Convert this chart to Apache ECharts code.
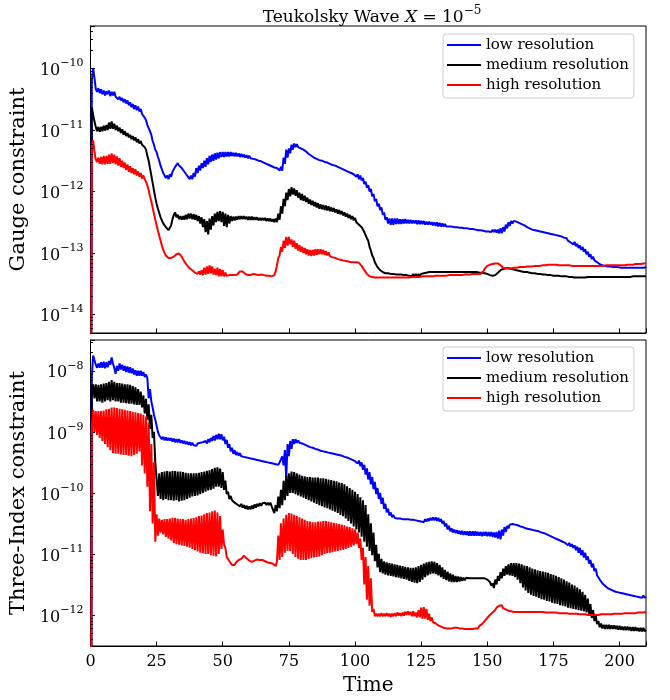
<!DOCTYPE html>
<html><head><meta charset="utf-8">
<script src="https://cdn.jsdelivr.net/npm/echarts@6/dist/echarts.min.js"></script>
<style>html,body{margin:0;padding:0;background:#fff}#c{width:670px;height:700px}</style>
</head><body><div id="c"></div>
<script>
// sampling step of the series (time units); value i is at t = i * TIME_STEP, t = 0 .. 210
const TIME_STEP = 0.5;
const seriesNames = ['low resolution', 'medium resolution', 'high resolution'];
const xTickValues = [0, 25, 50, 75, 100, 125, 150, 175, 200];
const gaugeDecades = [-14, -13, -12, -11, -10];
const threeIndexDecades = [-12, -11, -10, -9, -8];

// log10 of the constraint values
const gaugeLowLog10 = [
-20,-10.2,-10.0,-10.15,-10.33,-10.38,-10.32,-10.4,-10.34,-10.42,-10.36,-10.44,-10.37,-10.42,-10.36,-10.45,-10.38,-10.44,-10.38,-10.46,
-10.44,-10.5,-10.46,-10.52,-10.48,-10.55,-10.5,-10.57,-10.52,-10.6,-10.55,-10.63,-10.58,-10.66,-10.6,-10.68,-10.62,-10.7,-10.66,-10.74,
-10.74,-10.8,-10.84,-10.92,-10.94,-11.02,-11.08,-11.18,-11.24,-11.32,-11.36,-11.44,-11.5,-11.58,-11.64,-11.7,-11.72,-11.78,-11.74,-11.8,
-11.72,-11.76,-11.68,-11.7,-11.6,-11.62,-11.54,-11.58,-11.56,-11.62,-11.62,-11.68,-11.68,-11.74,-11.72,-11.8,-11.74,-11.8,-11.7,-11.76,
-11.62,-11.7,-11.58,-11.66,-11.54,-11.62,-11.5,-11.6,-11.46,-11.56,-11.42,-11.52,-11.4,-11.5,-11.38,-11.48,-11.37,-11.46,-11.36,-11.44,
-11.36,-11.44,-11.36,-11.43,-11.36,-11.43,-11.36,-11.42,-11.37,-11.43,-11.37,-11.43,-11.38,-11.44,-11.39,-11.44,-11.4,-11.45,-11.41,-11.46,
-11.42,-11.46,-11.43,-11.47,-11.44,-11.48,-11.46,-11.5,-11.47,-11.51,-11.49,-11.53,-11.51,-11.55,-11.53,-11.57,-11.55,-11.59,-11.57,-11.61,
-11.58,-11.62,-11.6,-11.66,-11.6,-11.66,-11.45,-11.55,-11.32,-11.45,-11.3,-11.38,-11.24,-11.32,-11.22,-11.28,-11.23,-11.28,-11.26,-11.3,
-11.29,-11.32,-11.33,-11.35,-11.37,-11.39,-11.41,-11.42,-11.43,-11.45,-11.45,-11.47,-11.47,-11.49,-11.49,-11.5,-11.5,-11.52,-11.52,-11.53,
-11.53,-11.55,-11.55,-11.57,-11.56,-11.58,-11.58,-11.6,-11.6,-11.62,-11.61,-11.64,-11.63,-11.66,-11.65,-11.68,-11.67,-11.7,-11.69,-11.72,
-11.7,-11.76,-11.72,-11.8,-11.74,-11.82,-11.78,-11.88,-11.84,-11.94,-11.9,-12.0,-11.96,-12.08,-12.04,-12.16,-12.12,-12.24,-12.2,-12.3,
-12.26,-12.38,-12.34,-12.46,-12.42,-12.52,-12.44,-12.54,-12.44,-12.54,-12.44,-12.53,-12.44,-12.53,-12.45,-12.53,-12.45,-12.52,-12.45,-12.52,
-12.46,-12.52,-12.46,-12.52,-12.47,-12.52,-12.47,-12.53,-12.47,-12.53,-12.48,-12.53,-12.48,-12.54,-12.49,-12.54,-12.49,-12.54,-12.5,-12.55,
-12.5,-12.56,-12.5,-12.57,-12.51,-12.57,-12.52,-12.57,-12.53,-12.57,-12.54,-12.57,-12.55,-12.57,-12.55,-12.58,-12.56,-12.58,-12.56,-12.59,
-12.57,-12.59,-12.57,-12.6,-12.58,-12.6,-12.58,-12.61,-12.59,-12.61,-12.59,-12.62,-12.6,-12.63,-12.6,-12.63,-12.61,-12.64,-12.61,-12.65,
-12.62,-12.65,-12.62,-12.66,-12.62,-12.66,-12.62,-12.67,-12.62,-12.68,-12.6,-12.68,-12.58,-12.65,-12.54,-12.6,-12.5,-12.56,-12.48,-12.52,
-12.48,-12.5,-12.49,-12.51,-12.51,-12.53,-12.53,-12.55,-12.55,-12.57,-12.58,-12.59,-12.6,-12.61,-12.62,-12.63,-12.63,-12.64,-12.64,-12.65,
-12.65,-12.66,-12.66,-12.67,-12.67,-12.68,-12.68,-12.69,-12.69,-12.7,-12.7,-12.71,-12.71,-12.72,-12.72,-12.74,-12.73,-12.76,-12.75,-12.78,
-12.76,-12.8,-12.78,-12.83,-12.8,-12.86,-12.82,-12.89,-12.85,-12.92,-12.88,-12.95,-12.9,-12.98,-12.94,-13.02,-12.98,-13.06,-13.02,-13.1,
-13.06,-13.12,-13.1,-13.15,-13.13,-13.18,-13.16,-13.2,-13.18,-13.21,-13.19,-13.22,-13.2,-13.22,-13.2,-13.23,-13.21,-13.23,-13.21,-13.23,
-13.21,-13.24,-13.21,-13.24,-13.21,-13.24,-13.21,-13.24,-13.21,-13.24,-13.21,-13.24,-13.21,-13.24,-13.21,-13.24,-13.21,-13.24,-13.21,-13.24,-13.22
];
const gaugeMediumLog10 = [
-20,-10.63,-10.75,-10.86,-10.95,-11.02,-10.95,-11.03,-10.95,-11.02,-10.93,-11.01,-10.92,-11.0,-10.88,-10.98,-10.86,-10.98,-10.9,-11.0,
-10.93,-11.02,-10.96,-11.05,-10.99,-11.08,-11.02,-11.1,-11.05,-11.12,-11.08,-11.15,-11.1,-11.17,-11.12,-11.2,-11.15,-11.22,-11.18,-11.24,
-11.22,-11.28,-11.32,-11.42,-11.5,-11.62,-11.74,-11.86,-11.98,-12.1,-12.2,-12.28,-12.35,-12.42,-12.47,-12.52,-12.55,-12.58,-12.6,-12.63,
-12.6,-12.55,-12.45,-12.38,-12.34,-12.42,-12.38,-12.45,-12.4,-12.46,-12.4,-12.46,-12.38,-12.45,-12.36,-12.44,-12.36,-12.45,-12.37,-12.46,
-12.38,-12.48,-12.4,-12.52,-12.42,-12.58,-12.45,-12.66,-12.48,-12.7,-12.44,-12.62,-12.4,-12.55,-12.36,-12.5,-12.33,-12.48,-12.32,-12.5,
-12.33,-12.56,-12.36,-12.58,-12.38,-12.52,-12.4,-12.48,-12.41,-12.47,-12.41,-12.46,-12.4,-12.45,-12.4,-12.45,-12.4,-12.45,-12.41,-12.46,
-12.41,-12.46,-12.41,-12.46,-12.42,-12.46,-12.42,-12.47,-12.43,-12.47,-12.43,-12.47,-12.43,-12.48,-12.44,-12.48,-12.44,-12.49,-12.45,-12.5,
-12.44,-12.5,-12.36,-12.46,-12.24,-12.36,-12.12,-12.24,-12.02,-12.14,-11.96,-12.08,-11.93,-12.05,-11.95,-12.07,-11.98,-12.1,-12.02,-12.14,
-12.04,-12.15,-12.07,-12.17,-12.1,-12.2,-12.13,-12.22,-12.15,-12.24,-12.17,-12.26,-12.19,-12.28,-12.21,-12.29,-12.22,-12.3,-12.23,-12.31,
-12.24,-12.32,-12.26,-12.33,-12.27,-12.34,-12.29,-12.36,-12.3,-12.37,-12.32,-12.39,-12.34,-12.41,-12.36,-12.43,-12.38,-12.45,-12.4,-12.47,
-12.43,-12.5,-12.48,-12.54,-12.52,-12.58,-12.58,-12.66,-12.68,-12.76,-12.8,-12.9,-12.96,-13.04,-13.08,-13.15,-13.17,-13.23,-13.24,-13.28,
-13.27,-13.31,-13.29,-13.33,-13.3,-13.33,-13.31,-13.34,-13.31,-13.34,-13.32,-13.35,-13.32,-13.35,-13.32,-13.35,-13.33,-13.36,-13.33,-13.36,
-13.33,-13.37,-13.34,-13.38,-13.34,-13.38,-13.34,-13.38,-13.34,-13.38,-13.34,-13.37,-13.33,-13.36,-13.32,-13.35,-13.31,-13.34,-13.31,-13.34,
-13.31,-13.34,-13.31,-13.34,-13.31,-13.34,-13.31,-13.34,-13.31,-13.34,-13.31,-13.34,-13.31,-13.34,-13.31,-13.33,-13.31,-13.33,-13.31,-13.33,
-13.31,-13.33,-13.31,-13.33,-13.31,-13.33,-13.31,-13.33,-13.31,-13.33,-13.31,-13.33,-13.31,-13.33,-13.32,-13.33,-13.32,-13.33,-13.33,-13.34,
-13.34,-13.35,-13.36,-13.37,-13.37,-13.37,-13.36,-13.34,-13.32,-13.3,-13.28,-13.27,-13.26,-13.25,-13.25,-13.25,-13.25,-13.26,-13.26,-13.27,
-13.27,-13.28,-13.28,-13.29,-13.29,-13.3,-13.3,-13.3,-13.31,-13.31,-13.31,-13.32,-13.32,-13.32,-13.33,-13.33,-13.33,-13.34,-13.34,-13.34,
-13.34,-13.35,-13.35,-13.35,-13.35,-13.36,-13.36,-13.36,-13.36,-13.36,-13.37,-13.37,-13.37,-13.37,-13.37,-13.38,-13.38,-13.38,-13.38,-13.38,
-13.38,-13.39,-13.39,-13.39,-13.39,-13.39,-13.4,-13.4,-13.4,-13.4,-13.4,-13.4,-13.4,-13.4,-13.4,-13.4,-13.39,-13.39,-13.39,-13.39,
-13.39,-13.39,-13.39,-13.39,-13.39,-13.39,-13.39,-13.39,-13.39,-13.39,-13.39,-13.39,-13.39,-13.39,-13.39,-13.39,-13.39,-13.39,-13.39,-13.39,
-13.39,-13.39,-13.39,-13.39,-13.39,-13.39,-13.39,-13.39,-13.39,-13.39,-13.38,-13.38,-13.38,-13.38,-13.38,-13.38,-13.38,-13.38,-13.38,-13.38,-13.38
];
const gaugeHighLog10 = [
-20,-11.25,-11.17,-11.35,-11.48,-11.52,-11.45,-11.55,-11.44,-11.56,-11.42,-11.56,-11.42,-11.55,-11.4,-11.55,-11.38,-11.54,-11.4,-11.56,
-11.43,-11.58,-11.46,-11.6,-11.5,-11.62,-11.53,-11.65,-11.56,-11.68,-11.59,-11.7,-11.62,-11.72,-11.64,-11.74,-11.67,-11.76,-11.7,-11.79,
-11.74,-11.8,-11.84,-11.9,-11.98,-12.08,-12.16,-12.26,-12.36,-12.46,-12.55,-12.64,-12.72,-12.8,-12.88,-12.95,-13.0,-13.04,-13.06,-13.08,
-13.06,-13.08,-13.05,-13.06,-13.03,-13.02,-13.0,-13.01,-13.03,-13.06,-13.1,-13.14,-13.16,-13.2,-13.22,-13.25,-13.26,-13.28,-13.3,-13.32,
-13.32,-13.34,-13.3,-13.35,-13.28,-13.36,-13.24,-13.35,-13.22,-13.34,-13.2,-13.33,-13.22,-13.35,-13.26,-13.36,-13.24,-13.38,-13.26,-13.38,
-13.28,-13.38,-13.32,-13.37,-13.34,-13.36,-13.35,-13.36,-13.36,-13.36,-13.36,-13.35,-13.33,-13.3,-13.28,-13.3,-13.32,-13.34,-13.35,-13.36,
-13.36,-13.36,-13.35,-13.34,-13.34,-13.35,-13.36,-13.36,-13.36,-13.35,-13.35,-13.36,-13.37,-13.37,-13.37,-13.37,-13.38,-13.38,-13.37,-13.36,
-13.3,-13.2,-13.08,-13.04,-12.9,-12.98,-12.8,-12.92,-12.74,-12.88,-12.74,-12.86,-12.78,-12.9,-12.8,-12.93,-12.84,-12.96,-12.87,-12.98,
-12.9,-13.0,-12.92,-13.02,-12.94,-13.04,-12.95,-13.05,-12.95,-13.04,-12.94,-13.03,-12.94,-13.02,-12.94,-13.02,-12.95,-13.03,-12.97,-13.04,
-12.99,-13.05,-13.02,-13.07,-13.04,-13.08,-13.06,-13.1,-13.07,-13.11,-13.09,-13.12,-13.1,-13.13,-13.11,-13.14,-13.12,-13.15,-13.13,-13.15,
-13.14,-13.15,-13.15,-13.16,-13.18,-13.21,-13.24,-13.28,-13.31,-13.34,-13.36,-13.38,-13.39,-13.39,-13.4,-13.4,-13.4,-13.4,-13.4,-13.4,
-13.4,-13.4,-13.4,-13.4,-13.4,-13.4,-13.4,-13.4,-13.4,-13.4,-13.4,-13.4,-13.4,-13.4,-13.4,-13.4,-13.4,-13.4,-13.4,-13.4,
-13.4,-13.4,-13.39,-13.39,-13.39,-13.39,-13.39,-13.39,-13.39,-13.39,-13.38,-13.38,-13.38,-13.38,-13.38,-13.38,-13.38,-13.38,-13.38,-13.38,
-13.37,-13.37,-13.37,-13.37,-13.37,-13.37,-13.37,-13.37,-13.37,-13.37,-13.36,-13.36,-13.36,-13.36,-13.36,-13.36,-13.36,-13.36,-13.36,-13.36,
-13.36,-13.36,-13.35,-13.35,-13.35,-13.35,-13.35,-13.35,-13.34,-13.34,-13.34,-13.34,-13.34,-13.34,-13.34,-13.34,-13.33,-13.3,-13.26,-13.23,
-13.21,-13.2,-13.19,-13.19,-13.18,-13.18,-13.17,-13.17,-13.17,-13.18,-13.2,-13.22,-13.24,-13.25,-13.25,-13.25,-13.25,-13.25,-13.25,-13.24,
-13.24,-13.24,-13.24,-13.24,-13.23,-13.23,-13.23,-13.23,-13.23,-13.23,-13.22,-13.22,-13.22,-13.22,-13.22,-13.22,-13.21,-13.21,-13.21,-13.21,
-13.21,-13.21,-13.2,-13.2,-13.2,-13.19,-13.19,-13.19,-13.19,-13.19,-13.19,-13.19,-13.19,-13.19,-13.2,-13.2,-13.2,-13.2,-13.2,-13.2,
-13.2,-13.2,-13.2,-13.2,-13.21,-13.21,-13.21,-13.21,-13.21,-13.21,-13.21,-13.21,-13.21,-13.21,-13.21,-13.21,-13.21,-13.21,-13.21,-13.21,
-13.21,-13.21,-13.21,-13.21,-13.21,-13.21,-13.21,-13.21,-13.21,-13.21,-13.2,-13.2,-13.2,-13.2,-13.2,-13.2,-13.2,-13.2,-13.2,-13.2,
-13.2,-13.2,-13.2,-13.2,-13.2,-13.19,-13.19,-13.19,-13.19,-13.19,-13.19,-13.19,-13.18,-13.18,-13.18,-13.18,-13.18,-13.18,-13.17,-13.17,-13.17
];
const threeIndexLowLog10 = [
-20,-8.1,-7.75,-7.72,-7.9,-7.95,-7.88,-7.95,-7.86,-7.95,-7.85,-7.96,-7.86,-7.94,-7.84,-7.9,-7.78,-7.88,-7.95,-8.05,
-7.92,-8.0,-7.88,-7.98,-7.9,-8.0,-7.92,-8.02,-7.93,-8.03,-7.94,-8.04,-7.96,-8.06,-7.99,-8.08,-8.0,-8.08,-8.0,-8.08,
-8.02,-8.1,-8.06,-8.12,-8.45,-8.3,-8.5,-8.6,-8.72,-8.8,-8.9,-9.0,-9.06,-9.08,-9.12,-9.08,-9.14,-9.09,-9.14,-9.1,
-9.14,-9.1,-9.16,-9.11,-9.17,-9.12,-9.17,-9.12,-9.18,-9.14,-9.19,-9.15,-9.2,-9.16,-9.21,-9.17,-9.22,-9.18,-9.22,-9.19,
-9.23,-9.19,-9.22,-9.18,-9.21,-9.17,-9.2,-9.15,-9.19,-9.12,-9.17,-9.1,-9.15,-9.07,-9.14,-9.05,-9.12,-9.03,-9.12,-9.04,
-9.14,-9.08,-9.2,-9.13,-9.26,-9.2,-9.32,-9.26,-9.36,-9.3,-9.38,-9.33,-9.39,-9.35,-9.4,-9.37,-9.41,-9.38,-9.42,-9.39,
-9.43,-9.4,-9.44,-9.41,-9.45,-9.42,-9.46,-9.43,-9.47,-9.44,-9.48,-9.45,-9.49,-9.46,-9.5,-9.47,-9.51,-9.48,-9.52,-9.49,
-9.53,-9.5,-9.54,-9.5,-9.53,-9.4,-9.55,-9.3,-9.75,-9.2,-9.4,-9.15,-9.28,-9.12,-9.2,-9.12,-9.18,-9.14,-9.18,-9.16,
-9.19,-9.18,-9.21,-9.2,-9.23,-9.22,-9.25,-9.24,-9.26,-9.25,-9.28,-9.27,-9.29,-9.28,-9.31,-9.3,-9.32,-9.31,-9.33,-9.32,
-9.34,-9.33,-9.35,-9.34,-9.36,-9.35,-9.37,-9.36,-9.38,-9.37,-9.39,-9.38,-9.41,-9.4,-9.42,-9.41,-9.44,-9.43,-9.46,-9.45,
-9.48,-9.46,-9.52,-9.47,-9.56,-9.5,-9.62,-9.54,-9.7,-9.6,-9.78,-9.66,-9.86,-9.74,-9.94,-9.82,-10.02,-9.92,-10.1,-10.0,
-10.18,-10.08,-10.26,-10.18,-10.32,-10.26,-10.37,-10.32,-10.4,-10.36,-10.41,-10.38,-10.42,-10.4,-10.42,-10.41,-10.43,-10.41,-10.43,-10.42,
-10.43,-10.42,-10.44,-10.43,-10.44,-10.43,-10.45,-10.44,-10.46,-10.44,-10.47,-10.44,-10.48,-10.43,-10.47,-10.42,-10.46,-10.41,-10.45,-10.4,
-10.45,-10.4,-10.46,-10.41,-10.47,-10.43,-10.5,-10.46,-10.55,-10.5,-10.6,-10.54,-10.63,-10.58,-10.65,-10.6,-10.66,-10.61,-10.67,-10.62,
-10.68,-10.62,-10.69,-10.63,-10.69,-10.63,-10.7,-10.63,-10.7,-10.63,-10.7,-10.63,-10.7,-10.64,-10.7,-10.64,-10.71,-10.64,-10.7,-10.64,
-10.71,-10.64,-10.71,-10.64,-10.72,-10.65,-10.73,-10.64,-10.75,-10.62,-10.76,-10.6,-10.7,-10.56,-10.64,-10.54,-10.58,-10.52,-10.55,-10.51,
-10.52,-10.52,-10.53,-10.53,-10.54,-10.55,-10.56,-10.56,-10.57,-10.58,-10.58,-10.59,-10.6,-10.6,-10.61,-10.61,-10.62,-10.62,-10.63,-10.63,
-10.64,-10.65,-10.66,-10.66,-10.67,-10.68,-10.69,-10.7,-10.7,-10.72,-10.72,-10.74,-10.74,-10.76,-10.76,-10.78,-10.78,-10.8,-10.8,-10.82,
-10.8,-10.86,-10.82,-10.88,-10.84,-10.9,-10.86,-10.94,-10.88,-10.98,-10.9,-11.02,-10.94,-11.06,-10.98,-11.1,-11.04,-11.16,-11.1,-11.22,
-11.16,-11.28,-11.24,-11.35,-11.32,-11.42,-11.4,-11.48,-11.46,-11.52,-11.5,-11.56,-11.53,-11.58,-11.55,-11.6,-11.57,-11.62,-11.59,-11.63,
-11.6,-11.64,-11.61,-11.65,-11.62,-11.66,-11.63,-11.67,-11.64,-11.68,-11.65,-11.69,-11.66,-11.7,-11.67,-11.71,-11.68,-11.72,-11.68,-11.72,-11.7
];
const threeIndexMediumLog10 = [
-20,-8.3,-8.22,-8.45,-8.22,-8.5,-8.23,-8.5,-8.22,-8.52,-8.21,-8.5,-8.2,-8.48,-8.18,-8.5,-8.15,-8.48,-8.18,-8.5,
-8.2,-8.5,-8.2,-8.52,-8.21,-8.52,-8.22,-8.53,-8.22,-8.54,-8.23,-8.54,-8.25,-8.55,-8.27,-8.56,-8.3,-8.56,-8.34,-8.6,
-8.4,-8.7,-8.46,-8.8,-8.55,-8.95,-8.72,-9.1,-9.0,-9.5,-9.5,-10.05,-9.68,-10.1,-9.66,-10.12,-9.65,-10.1,-9.64,-10.12,
-9.65,-10.12,-9.64,-10.13,-9.64,-10.12,-9.65,-10.14,-9.65,-10.13,-9.66,-10.12,-9.67,-10.1,-9.68,-10.08,-9.68,-10.06,-9.68,-10.05,
-9.68,-10.04,-9.67,-10.02,-9.66,-10.0,-9.65,-9.98,-9.64,-9.96,-9.63,-9.95,-9.61,-9.93,-9.59,-9.9,-9.58,-9.9,-9.6,-9.92,
-9.66,-9.95,-9.8,-10.02,-9.98,-10.1,-10.05,-10.12,-10.1,-10.16,-10.13,-10.19,-10.16,-10.22,-10.18,-10.24,-10.2,-10.26,-10.21,-10.27,
-10.22,-10.27,-10.21,-10.26,-10.19,-10.24,-10.18,-10.22,-10.17,-10.21,-10.17,-10.2,-10.16,-10.2,-10.16,-10.2,-10.16,-10.22,-10.2,-10.33,
-10.2,-10.3,-10.06,-10.25,-9.95,-10.2,-9.8,-10.12,-9.72,-10.05,-9.68,-10.0,-9.65,-10.0,-9.66,-10.02,-9.68,-10.04,-9.7,-10.06,
-9.72,-10.08,-9.73,-10.1,-9.74,-10.12,-9.74,-10.14,-9.75,-10.16,-9.75,-10.18,-9.75,-10.2,-9.76,-10.22,-9.76,-10.24,-9.77,-10.25,
-9.78,-10.27,-9.79,-10.29,-9.8,-10.31,-9.81,-10.33,-9.83,-10.36,-9.84,-10.38,-9.86,-10.42,-9.89,-10.46,-9.92,-10.5,-9.95,-10.55,
-9.98,-10.6,-10.02,-10.65,-10.07,-10.72,-10.12,-10.8,-10.2,-10.88,-10.35,-10.95,-10.5,-11.02,-10.65,-11.12,-10.85,-11.22,-11.0,-11.3,
-11.08,-11.32,-11.12,-11.34,-11.14,-11.35,-11.15,-11.36,-11.16,-11.37,-11.17,-11.38,-11.18,-11.39,-11.19,-11.4,-11.2,-11.41,-11.21,-11.42,
-11.22,-11.44,-11.23,-11.46,-11.23,-11.47,-11.22,-11.48,-11.2,-11.46,-11.18,-11.42,-11.16,-11.38,-11.14,-11.35,-11.13,-11.33,-11.12,-11.32,
-11.13,-11.33,-11.15,-11.35,-11.18,-11.38,-11.22,-11.41,-11.26,-11.43,-11.29,-11.45,-11.32,-11.46,-11.34,-11.46,-11.36,-11.46,-11.37,-11.45,
-11.38,-11.44,-11.39,-11.43,-11.39,-11.42,-11.4,-11.42,-11.4,-11.41,-11.4,-11.41,-11.4,-11.41,-11.4,-11.41,-11.4,-11.41,-11.4,-11.42,
-11.42,-11.45,-11.46,-11.52,-11.48,-11.56,-11.42,-11.5,-11.36,-11.44,-11.3,-11.4,-11.24,-11.36,-11.2,-11.34,-11.17,-11.35,-11.15,-11.36,
-11.15,-11.38,-11.15,-11.42,-11.16,-11.48,-11.17,-11.55,-11.19,-11.6,-11.2,-11.64,-11.22,-11.67,-11.24,-11.69,-11.25,-11.7,-11.27,-11.72,
-11.28,-11.74,-11.29,-11.75,-11.3,-11.77,-11.31,-11.78,-11.33,-11.8,-11.34,-11.81,-11.36,-11.82,-11.38,-11.84,-11.4,-11.85,-11.42,-11.86,
-11.45,-11.88,-11.47,-11.89,-11.5,-11.9,-11.52,-11.91,-11.55,-11.92,-11.58,-11.93,-11.62,-11.94,-11.67,-11.96,-11.73,-11.99,-11.82,-12.05,
-11.92,-12.1,-12.02,-12.15,-12.1,-12.2,-12.14,-12.22,-12.16,-12.23,-12.16,-12.23,-12.16,-12.23,-12.17,-12.23,-12.17,-12.23,-12.18,-12.24,
-12.18,-12.24,-12.19,-12.25,-12.19,-12.25,-12.19,-12.25,-12.2,-12.26,-12.2,-12.26,-12.2,-12.26,-12.21,-12.27,-12.21,-12.27,-12.21,-12.27,-12.24
];
const threeIndexHighLog10 = [
-20,-8.95,-8.64,-9.0,-8.66,-9.05,-8.66,-9.1,-8.66,-9.15,-8.65,-9.2,-8.63,-9.25,-8.62,-9.3,-8.6,-9.35,-8.6,-9.36,
-8.61,-9.36,-8.62,-9.37,-8.63,-9.38,-8.64,-9.38,-8.65,-9.39,-8.66,-9.4,-8.67,-9.38,-8.68,-9.36,-8.69,-9.32,-8.7,-9.55,
-8.72,-9.68,-8.75,-9.9,-8.85,-10.3,-9.2,-10.5,-9.5,-10.8,-10.35,-10.7,-10.42,-10.65,-10.44,-10.68,-10.43,-10.72,-10.43,-10.75,
-10.42,-10.78,-10.41,-10.82,-10.41,-10.84,-10.42,-10.85,-10.43,-10.86,-10.43,-10.87,-10.44,-10.88,-10.43,-10.9,-10.42,-10.92,-10.41,-10.94,
-10.4,-10.96,-10.38,-10.98,-10.37,-10.99,-10.35,-11.0,-10.33,-11.0,-10.32,-11.02,-10.3,-11.03,-10.29,-11.04,-10.32,-11.0,-10.38,-10.92,
-10.6,-10.85,-10.9,-11.05,-11.08,-11.12,-11.14,-11.18,-11.15,-11.18,-11.14,-11.15,-11.1,-11.12,-11.08,-11.06,-11.03,-11.05,-11.07,-11.1,
-11.11,-11.12,-11.13,-11.12,-11.11,-11.1,-11.09,-11.1,-11.1,-11.11,-11.1,-11.11,-11.12,-11.13,-11.14,-11.14,-11.15,-11.16,-11.16,-11.18,
-11.2,-11.12,-10.7,-11.1,-10.5,-11.05,-10.42,-10.98,-10.36,-10.95,-10.33,-10.95,-10.34,-11.0,-10.36,-11.05,-10.38,-11.08,-10.4,-11.1,
-10.42,-11.1,-10.44,-11.1,-10.46,-11.08,-10.47,-11.07,-10.48,-11.06,-10.48,-11.05,-10.47,-11.04,-10.47,-11.02,-10.46,-11.0,-10.46,-10.99,
-10.47,-10.98,-10.48,-10.97,-10.49,-10.96,-10.5,-10.95,-10.51,-10.94,-10.52,-10.93,-10.53,-10.92,-10.55,-10.9,-10.56,-10.88,-10.58,-10.86,
-10.6,-10.84,-10.65,-10.9,-10.75,-11.1,-10.9,-11.5,-11.05,-11.75,-11.2,-11.85,-11.4,-11.95,-11.9,-12.02,-11.98,-12.02,-11.98,-12.02,
-11.97,-12.02,-11.98,-12.02,-11.97,-12.02,-11.98,-12.03,-11.98,-12.02,-11.97,-12.02,-11.96,-12.01,-11.97,-12.02,-11.96,-12.01,-11.95,-12.0,
-11.94,-12.0,-11.95,-12.02,-11.94,-12.02,-11.96,-12.04,-11.92,-12.04,-11.88,-12.06,-11.87,-12.06,-11.9,-12.08,-11.98,-12.1,-12.04,-12.12,
-12.1,-12.14,-12.14,-12.17,-12.17,-12.19,-12.19,-12.21,-12.2,-12.22,-12.2,-12.22,-12.2,-12.22,-12.19,-12.21,-12.19,-12.21,-12.2,-12.22,
-12.2,-12.22,-12.21,-12.23,-12.21,-12.23,-12.21,-12.23,-12.21,-12.23,-12.2,-12.22,-12.2,-12.22,-12.18,-12.2,-12.15,-12.16,-12.1,-12.1,
-12.05,-12.04,-12.0,-11.98,-11.96,-11.93,-11.92,-11.88,-11.89,-11.85,-11.88,-11.84,-11.89,-11.86,-11.91,-11.88,-11.93,-11.9,-11.94,-11.91,
-11.95,-11.92,-11.95,-11.92,-11.95,-11.93,-11.95,-11.93,-11.95,-11.93,-11.95,-11.93,-11.95,-11.93,-11.95,-11.93,-11.95,-11.93,-11.95,-11.93,
-11.95,-11.93,-11.95,-11.93,-11.96,-11.93,-11.96,-11.94,-11.96,-11.94,-11.96,-11.94,-11.96,-11.94,-11.97,-11.94,-11.97,-11.95,-11.97,-11.95,
-11.97,-11.95,-11.98,-11.95,-11.98,-11.96,-11.98,-11.96,-11.98,-11.96,-11.99,-11.96,-11.99,-11.97,-11.99,-11.97,-12.0,-11.97,-12.0,-11.97,
-12.0,-11.98,-12.0,-11.98,-12.0,-11.98,-11.99,-11.97,-11.99,-11.97,-11.99,-11.97,-11.99,-11.97,-11.99,-11.97,-11.98,-11.96,-11.98,-11.96,
-11.98,-11.96,-11.98,-11.96,-11.97,-11.96,-11.97,-11.95,-11.97,-11.95,-11.97,-11.95,-11.97,-11.95,-11.96,-11.95,-11.96,-11.94,-11.96,-11.94,-11.95
];

const FONT = 'DejaVu Serif';
const COLORS = ['#0000ff', '#000000', '#ff0000'];

function toPairs(arr) { return arr.map((v, i) => [i * TIME_STEP, Math.pow(10, v)]); }

function decadeLabel(decades) {
  return function (value) {
    const e = Math.log10(value);
    const r = Math.round(e);
    if (Math.abs(e - r) > 0.01 || decades.indexOf(r) < 0) return '';
    return '{b|10}{s|' + (r < 0 ? '\u2212' + (-r) : r) + '}';
  };
}

function minorTicks(xi, yi, lo, hi) {
  const vals = [];
  for (let e = Math.floor(Math.log10(lo)); e <= Math.ceil(Math.log10(hi)); e++) {
    for (let k = 2; k <= 9; k++) {
      const v = k * Math.pow(10, e);
      if (v > lo && v < hi) vals.push([0, v]);
    }
  }
  return {
    type: 'custom', xAxisIndex: xi, yAxisIndex: yi, silent: true, z: 6, data: vals,
    renderItem: function (params, api) {
      const p = api.coord([0, api.value(1)]);
      const y = Math.round(p[1]) + 0.5;
      return { type: 'line', shape: { x1: p[0], y1: y, x2: p[0] + 2.5, y2: y }, style: { stroke: '#000', lineWidth: 1 } };
    }
  };
}

const GAUGE_MIN = 5.0e-15, GAUGE_MAX = 4.9e-10;
const THREE_MIN = 3.1e-13, THREE_MAX = 3.2e-8;

const labelRich = {
  b: { fontFamily: FONT, fontSize: 16, color: '#000', padding: [5, 0, 0, 0], verticalAlign: 'bottom' },
  s: { fontFamily: FONT, fontSize: 11, color: '#000', verticalAlign: 'top' }
};

function yAxis(gi, min, max, name, decades) {
  return {
    type: 'log', logBase: 10, gridIndex: gi, min: min, max: max,
    name: name, nameLocation: 'middle', nameGap: 42, nameRotate: 90,
    nameTextStyle: { fontFamily: FONT, fontSize: 21, color: '#000' },
    axisLine: { show: true, lineStyle: { color: '#000', width: 1 } },
    axisTick: { show: true, inside: true, length: 4.5, lineStyle: { color: '#000', width: 1 } },
    axisLabel: { margin: 7, formatter: decadeLabel(decades), rich: labelRich },
    splitLine: { show: false }
  };
}

function xAxis(gi, showLabels) {
  return {
    type: 'value', gridIndex: gi, min: 0, max: 210, interval: 25,
    name: showLabels ? 'Time' : '', nameLocation: 'middle', nameGap: 30,
    nameTextStyle: { fontFamily: FONT, fontSize: 20, color: '#000' },
    axisLine: { show: true, lineStyle: { color: '#000', width: 1 } },
    axisTick: { show: true, inside: true, length: 4.5, lineStyle: { color: '#000', width: 1 } },
    axisLabel: {
      show: showLabels, margin: 8, fontFamily: FONT, fontSize: 16, color: '#000',
      formatter: function (v) { return xTickValues.indexOf(v) >= 0 ? String(v) : ''; }
    },
    splitLine: { show: false }
  };
}

function lineSeries(name, xi, yi, arr, color) {
  return {
    type: 'line', name: name, xAxisIndex: xi, yAxisIndex: yi, data: toPairs(arr),
    showSymbol: false, symbol: 'none', clip: true, silent: true,
    lineStyle: { color: color, width: 2 }, itemStyle: { color: color }
  };
}

function legend(top) {
  return {
    data: seriesNames, orient: 'vertical', left: 443, top: top,
    icon: 'rect', itemWidth: 34, itemHeight: 2, itemGap: 0, selectedMode: false,
    textStyle: { fontFamily: FONT, fontSize: 15, color: '#000', lineHeight: 20 },
    padding: [1, 5, 3, 4], borderColor: '#cccccc', borderWidth: 1, borderRadius: 3,
    backgroundColor: 'rgba(255,255,255,0.8)'
  };
}

const chart = echarts.init(document.getElementById('c'), null, { renderer: 'canvas' });
chart.setOption({
  animation: false,
  backgroundColor: '#fff',
  title: {
    text: '{n|Teukolsky Wave }{i|X}{n| = 10}{s|\u22125}',
    left: 367, top: 0, textAlign: 'center',
    textStyle: {
      fontWeight: 'normal',
      rich: {
        n: { fontFamily: FONT, fontSize: 17, fontWeight: 'normal', color: '#000', padding: [4, 0, 0, 0], verticalAlign: 'bottom' },
        i: { fontFamily: FONT, fontSize: 17, fontWeight: 'normal', color: '#000', fontStyle: 'italic', padding: [4, 0, 0, 0], verticalAlign: 'bottom' },
        s: { fontFamily: FONT, fontSize: 12, fontWeight: 'normal', color: '#000', verticalAlign: 'top' }
      }
    }
  },
  legend: [legend(34), legend(347)],
  grid: [
    { left: 88, top: 26, width: 558, height: 307, show: true, borderColor: '#000', borderWidth: 1, backgroundColor: 'transparent' },
    { left: 88, top: 340, width: 558, height: 306, show: true, borderColor: '#000', borderWidth: 1, backgroundColor: 'transparent' }
  ],
  xAxis: [xAxis(0, false), xAxis(1, true)],
  yAxis: [
    yAxis(0, GAUGE_MIN, GAUGE_MAX, 'Gauge constraint', gaugeDecades),
    yAxis(1, THREE_MIN, THREE_MAX, 'Three-Index constraint', threeIndexDecades)
  ],
  series: [
    lineSeries(seriesNames[0], 0, 0, gaugeLowLog10, COLORS[0]),
    lineSeries(seriesNames[1], 0, 0, gaugeMediumLog10, COLORS[1]),
    lineSeries(seriesNames[2], 0, 0, gaugeHighLog10, COLORS[2]),
    lineSeries(seriesNames[0], 1, 1, threeIndexLowLog10, COLORS[0]),
    lineSeries(seriesNames[1], 1, 1, threeIndexMediumLog10, COLORS[1]),
    lineSeries(seriesNames[2], 1, 1, threeIndexHighLog10, COLORS[2]),
    minorTicks(0, 0, GAUGE_MIN, GAUGE_MAX),
    minorTicks(1, 1, THREE_MIN, THREE_MAX)
  ]
});
</script>
</body></html>
